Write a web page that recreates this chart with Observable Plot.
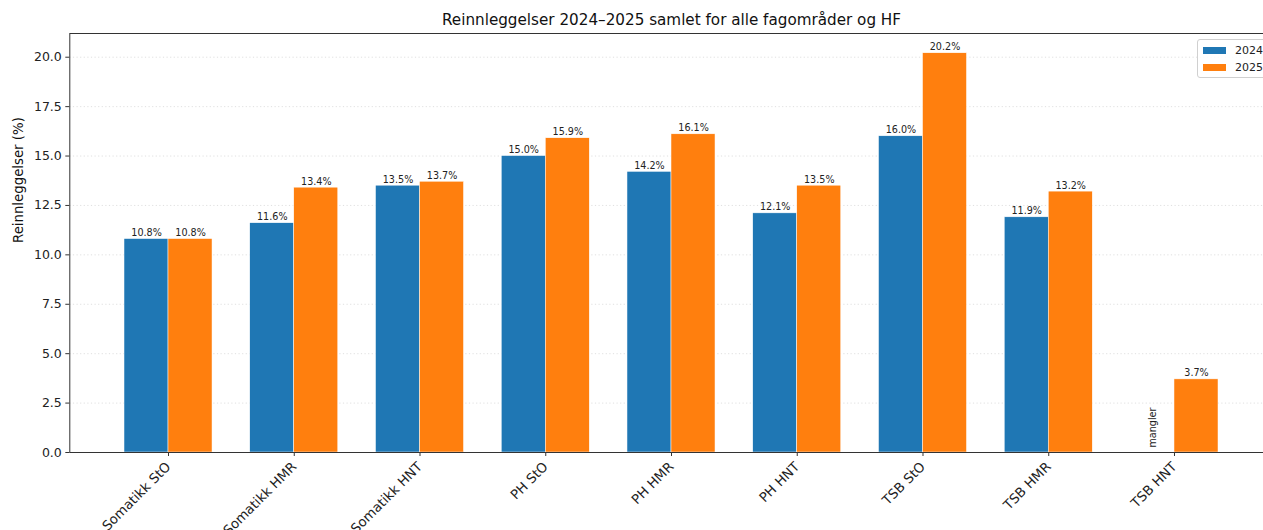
<!DOCTYPE html>
<html>
<head>
<meta charset="utf-8">
<script src="https://cdn.jsdelivr.net/npm/d3@7"></script>
<script src="https://cdn.jsdelivr.net/npm/@observablehq/plot@0.6"></script>
<style>
  html, body { margin: 0; padding: 0; background: white; overflow: hidden; }
  #wrap { position: relative; width: 1263px; height: 530px; overflow: hidden; font-family: "DejaVu Sans", sans-serif; }
  #legend { position: absolute; left: 1197px; top: 39px; width: 90px; height: 37px; border: 1px solid #d0d0d0; border-radius: 3px; background: rgba(255,255,255,0.85); font-size: 11px; color: #222; }
  .item { position: absolute; left: 5px; height: 14px; display: flex; align-items: center; }
  .sw { width: 23px; height: 7px; margin-right: 9px; }
</style>
</head>
<body>
<div id="wrap"></div>
<script>
const title = "Reinnleggelser 2024–2025 samlet for alle fagområder og HF";
const yLabel = "Reinnleggelser (%)";
const categories = ["Somatikk StO", "Somatikk HMR", "Somatikk HNT", "PH StO", "PH HMR", "PH HNT", "TSB StO", "TSB HMR", "TSB HNT"];
const years = ["2024", "2025"];
const values2024 = [10.8, 11.6, 13.5, 15.0, 14.2, 12.1, 16.0, 11.9, null];
const values2025 = [10.8, 13.4, 13.7, 15.9, 16.1, 13.5, 20.2, 13.2, 3.7];
const yTicks = [0, 2.5, 5, 7.5, 10, 12.5, 15, 17.5, 20];
const colors = ["#1f77b4", "#ff7f0e"];
const missingText = "mangler";

const barW = 0.35;
const rows = [];
categories.forEach((c, i) => {
  [values2024, values2025].forEach((vals, k) => {
    rows.push({cat: c, i, year: years[k], k, value: vals[i],
      x1: i + (k - 1) * barW, x2: i + k * barW, xc: i + (k - 0.5) * barW});
  });
});
const present = rows.filter(d => d.value != null);
const missing = rows.filter(d => d.value == null);

const W = 1263, H = 530;
const mL = 69.3, mR = -9.7;

const chart = Plot.plot({
  width: W, height: H,
  marginLeft: mL, marginRight: mR, marginTop: 33, marginBottom: 78,
  style: {fontFamily: "DejaVu Sans, sans-serif", fontSize: "12px", color: "#222", background: "white", overflow: "visible"},
  x: {domain: [-0.785, 8.785], axis: null},
  y: {domain: [0, 21.2], axis: null},
  color: {domain: years, range: colors},
  marks: [
    Plot.ruleY(yTicks, {stroke: "#d8d8d8", strokeWidth: 0.8, strokeDasharray: "1.2,2.4"}),
    Plot.rectY(present, {x1: "x1", x2: "x2", y1: 0, y2: "value", fill: "year", stroke: "white", strokeWidth: 0.5}),
    Plot.text(present, {x: "xc", y: "value", text: d => d.value.toFixed(1) + "%", dy: -3, lineAnchor: "bottom", fontSize: 9.6, fill: "#222"}),
    Plot.text(missing, {x: "xc", y: 0, text: () => missingText, rotate: -90, textAnchor: "start", dy: -5, fontSize: 9.6, fill: "#222"}),
    Plot.axisY({ticks: yTicks, tickFormat: d3.format(".1f"), tickSize: 4, tickPadding: 4, fontSize: 12.5, label: null, stroke: "#333"}),
    Plot.axisX({ticks: d3.range(categories.length), tickFormat: i => categories[i], tickSize: 4, tickPadding: 8, tickRotate: -45, fontSize: 13.3, label: null, stroke: "#333"}),
    Plot.frame({stroke: "#333", strokeWidth: 1}),
    Plot.text([title], {frameAnchor: "top", dy: -9, lineAnchor: "bottom", fontSize: 15.2, fill: "#111"}),
    Plot.text([yLabel], {frameAnchor: "left", dx: -51, rotate: -90, fontSize: 13.3, fill: "#111"})
  ]
});
const wrap = document.getElementById("wrap");
wrap.appendChild(chart);

// legend (HTML overlay, matplotlib-style box in the upper right)
const legend = document.createElement("div");
legend.id = "legend";
years.forEach((y, k) => {
  const it = document.createElement("div");
  it.className = "item";
  it.style.top = (3 + k * 17) + "px";
  it.innerHTML = `<span class="sw" style="background:${colors[k]}"></span><span>${y}</span>`;
  legend.appendChild(it);
});
wrap.appendChild(legend);
</script>
</body>
</html>
